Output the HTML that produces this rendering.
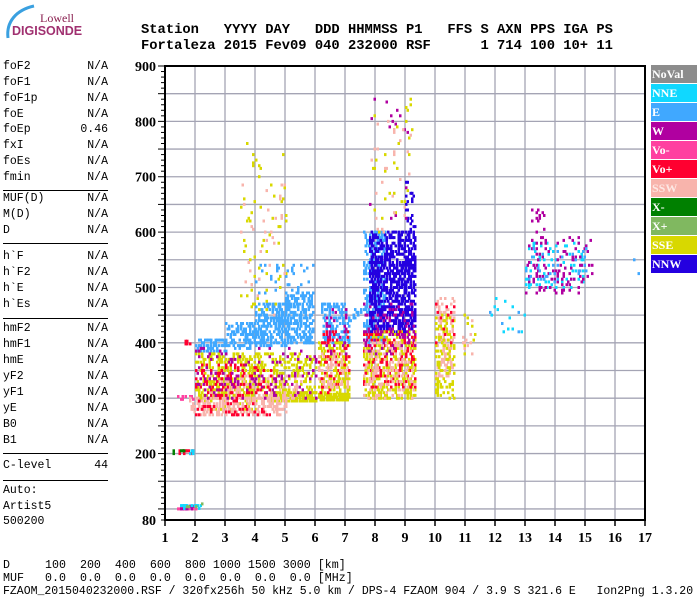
<!DOCTYPE html>
<html><head><meta charset="utf-8">
<style>
body{margin:0;background:#fff;width:700px;height:600px;overflow:hidden;position:relative;font-family:"Liberation Mono",monospace;}
.t{position:absolute;white-space:pre;font-family:"Liberation Mono",monospace;color:#000;}
.lp{font-size:11.5px;line-height:12px;}
.hd{font-size:13.8px;font-weight:bold;left:141px;}
.lg{position:absolute;left:651px;width:46px;height:18px;color:#fff;font:bold 12px "Liberation Serif",serif;line-height:18px;padding-left:1px;box-sizing:border-box;}
</style></head><body>
<div style="position:absolute;left:0;top:0;width:90px;height:45px;">
<svg width="90" height="45"><path d="M8 38 C6 22 16 10 34 6" stroke="#3aa0e0" stroke-width="3" fill="none"/></svg>
<div class="t" style="left:40px;top:11px;font:12px 'Liberation Serif',serif;color:#8a2050;">Lowell</div>
<div class="t" style="left:12px;top:24px;font:bold 12.5px 'Liberation Sans',sans-serif;color:#a03070;">DIGISONDE</div>
</div>
<div class="t hd" style="top:23px;">Station   YYYY DAY   DDD HHMMSS P1   FFS S AXN PPS IGA PS</div>
<div class="t hd" style="top:39px;">Fortaleza 2015 Fev09 040 232000 RSF      1 714 100 10+ 11</div>

<div id="left"></div>

<svg id="chart" width="700" height="600" style="position:absolute;left:0;top:0;"></svg>

<div id="legend"></div>

<div class="t lp" style="left:3px;top:559px;font-size:11.67px;">D     100  200  400  600  800 1000 1500 3000 [km]</div>
<div class="t lp" style="left:3px;top:572px;font-size:11.67px;">MUF   0.0  0.0  0.0  0.0  0.0  0.0  0.0  0.0 [MHz]</div>
<div class="t lp" style="left:3px;top:586px;">FZAOM_2015040232000.RSF / 320fx256h 50 kHz 5.0 km / DPS-4 FZAOM 904 / 3.9 S 321.6 E   Ion2Png 1.3.20</div>

<script>
// ---- data ----
const xTicks=[1,2,3,4,5,6,7,8,9,10,11,12,13,14,15,16,17];
const yTicks=[80,200,300,400,500,600,700,800,900];
const legendNames=["NoVal","NNE","E","W","Vo-","Vo+","SSW","X-","X+","SSE","NNW"];
const legendColors=["#8c8c8c","#10d8ff","#40a8ff","#b000a0","#ff40a0","#ff0030","#f8b4ac","#008000","#80b860","#d8d800","#2400e0"];
const paramNames=["foF2","foF1","foF1p","foE","foEp","fxI","foEs","fmin","MUF(D)","M(D)","D","h`F","h`F2","h`E","h`Es","hmF2","hmF1","hmE","yF2","yF1","yE","B0","B1","C-level"];
const paramValues=["N/A","N/A","N/A","N/A","0.46","N/A","N/A","N/A","N/A","N/A","N/A","N/A","N/A","N/A","N/A","N/A","N/A","N/A","N/A","N/A","N/A","N/A","N/A","44"];
// echo clusters: frequency range (MHz), virtual height range (km), mode index, density
const clFLo=[1.4,1.5,1.5,1.7, 1.45,1.5,1.8,1.2, 1.4,1.6,
 2.0,3.0,4.0,5.0,4.0, 2.0,4.5,2.2, 1.8,2.5, 2.0,2.0, 3.5,3.5,
 6.2,6.1,6.1,6.1,6.1,6.3,7.0,
 7.6,7.8,8.9,7.6,7.6,7.6,7.6,7.8,7.8,7.8,
 10.0,10.0,10.0,10.9,10.9,11.8,11.8,
 13.0,13.0,13.0,13.2,16.5];
const clFHi=[2.0,1.9,2.2,2.2, 1.9,1.9,1.95,1.27, 1.9,1.8,
 3.0,4.0,5.0,5.9,5.9, 6.0,6.0,4.0, 5.0,5.5, 4.5,6.0, 5.0,5.0,
 7.1,7.1,7.1,7.1,7.1,7.0,7.5,
 8.3,9.3,9.3,9.3,9.3,9.3,9.3,9.2,9.2,9.2,
 10.6,10.6,10.6,11.3,11.3,13.0,13.0,
 15.0,15.2,15.0,13.6,16.8];
const clHLo=[100,100,101,104, 200,200,200,200, 298,398,
 385,390,395,400,490, 300,295,280, 270,300, 270,300, 450,450,
 400,300,297,310,320,380,440,
 400,420,600,300,320,300,380,600,600,600,
 340,300,380,380,380,420,420,
 500,490,510,580,520];
const clHHi=[106,106,108,110, 206,206,206,206, 302,402,
 405,435,470,490,540, 380,310,330, 300,340, 360,390, 760,700,
 470,400,308,420,380,460,460,
 600,600,690,420,420,400,470,840,840,820,
 480,450,470,450,450,480,480,
 580,590,570,650,555];
const clMode=[4,3,1,8, 5,7,1,7, 4,5,
 2,2,2,2,2, 9,9,9, 6,6, 5,3, 9,6,
 2,9,9,5,6,3,2,
 2,10,10,9,5,6,3,3,9,6,
 6,9,5,9,6,1,2,
 1,3,2,3,2];
const clDens=[0.6,0.3,0.3,0.15, 0.6,0.2,0.5,0.5, 0.4,0.6,
 0.5,0.45,0.5,0.5,0.08, 0.3,0.8,0.25, 0.4,0.2, 0.12,0.08, 0.025,0.015,
 0.4,0.35,0.85,0.12,0.2,0.12,0.2,
 0.45,0.55,0.15,0.4,0.18,0.18,0.12,0.02,0.02,0.015,
 0.25,0.22,0.08,0.1,0.08,0.05,0.04,
 0.12,0.12,0.06,0.1,0.06];

// ---- layout ----
const NS="http://www.w3.org/2000/svg";
const svg=document.getElementById('chart');
const x0=165,x1=645,yTop=66,yBot=520;
const xs=f=>x0+(f-1)*(x1-x0)/16;
const ys=h=>yTop+(900-h)*(yBot-yTop)/820;
function mk(tag,at){const e=document.createElementNS(NS,tag);for(const k in at)e.setAttribute(k,at[k]);svg.appendChild(e);return e;}

for(let f=1;f<=17;f++){const g=mk('line',{x1:xs(f),x2:xs(f),y1:yTop,y2:yBot,stroke:'#a4a4b4','stroke-width':1.3});

}
for(let h=100;h<900;h+=50){const g=mk('line',{x1:x0,x2:x1,y1:ys(h),y2:ys(h),stroke:'#a4a4b4','stroke-width':1.3});

}

function hsh(a,b,c){let v=(a*73856093)^(b*19349663)^(c*83492791);v=(v^(v>>>13))*1274126177;v=v^(v>>>16);return ((v>>>0)%1000)/1000;}
const g=mk('g',{});


for(let k=0;k<clFLo.length;k++){
  const nf=Math.max(1,Math.round((clFHi[k]-clFLo[k])/0.05));
  const nh=Math.max(1,Math.round((clHHi[k]-clHLo[k])/5));
  for(let i=0;i<=nf;i++)for(let j=0;j<=nh;j++){
    if(hsh(i+7,j+11,k+3)>=clDens[k])continue;
    const f=clFLo[k]+i*0.05,h=clHLo[k]+j*5;
    const r=document.createElementNS(NS,'rect');
    r.setAttribute('x',xs(f).toFixed(1));r.setAttribute('y',(ys(h)-1.5).toFixed(1));
    r.setAttribute('width',2.5);r.setAttribute('height',3);
    r.setAttribute('fill',legendColors[clMode[k]]);
    g.appendChild(r);
  }
}

const box=mk('rect',{x:x0,y:yTop,width:x1-x0,height:yBot-yTop,fill:'none',stroke:'#000','stroke-width':2});


for(let h=80;h<=900;h+=10){const major=h%50===0;mk('line',{x1:x0-(major?7:4),x2:x0,y1:ys(h),y2:ys(h),stroke:'#000','stroke-width':1});}
for(const f of xTicks){mk('line',{x1:xs(f),x2:xs(f),y1:yBot,y2:yBot+6,stroke:'#000','stroke-width':1.5});
 const t=mk('text',{x:xs(f),y:yBot+22,'text-anchor':'middle','font-family':'Liberation Serif,serif','font-weight':'bold','font-size':14});
 t.textContent=f;
 
 }
for(const h of yTicks){const t=mk('text',{x:x0-9,y:ys(h)+5,'text-anchor':'end','font-family':'Liberation Serif,serif','font-weight':'bold','font-size':14});
 t.textContent=h;
 
 }

const lg=document.getElementById('legend');
legendNames.forEach((n,i)=>{const d=document.createElement('div');d.className='lg';
 d.style.top=(65+i*19)+'px';d.style.background=legendColors[i];d.textContent=n;
 if(i===6)d.style.color='#fde8e4';
 
 
 lg.appendChild(d);});

const lp=document.getElementById('left');
const rowY=[61,77,93,109,124,140,156,172, 193,209,225, 251,267,283,299, 323,339,355,371,387,403,419,435, 460];
paramNames.forEach((n,i)=>{
 const a=document.createElement('div');a.className='t lp';a.style.left='3px';a.style.top=rowY[i]+'px';a.textContent=n;
 
 
 lp.appendChild(a);
 const b=document.createElement('div');b.className='t lp';b.style.right=(700-108)+'px';b.style.top=rowY[i]+'px';b.textContent=paramValues[i];
 
 
 lp.appendChild(b);});
[190,243,318,453,480].forEach(y=>{const l=document.createElement('div');
 l.style.cssText='position:absolute;left:3px;width:105px;height:1px;background:#000;top:'+y+'px';
 
 
 lp.appendChild(l);});
[['Auto:',485],['Artist5',501],['500200',516]].forEach(([s,y])=>{const a=document.createElement('div');a.className='t lp';a.style.left='3px';a.style.top=y+'px';a.textContent=s;
 
 
 lp.appendChild(a);});
</script>
</body></html>
